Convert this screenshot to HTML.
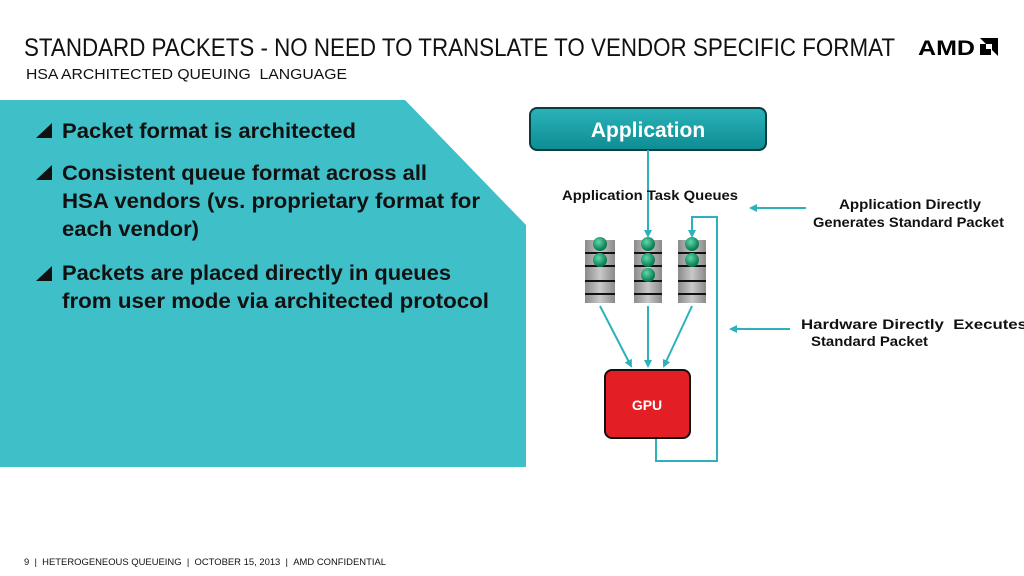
<!DOCTYPE html>
<html><head><style>
body{margin:0;width:1024px;height:576px;background:#fff;position:relative;overflow:hidden;font-family:"Liberation Sans",sans-serif}
</style></head><body>
<svg style="position:absolute;left:0;top:0" width="1024" height="576">
<defs><marker id="a" markerWidth="8" markerHeight="8" refX="6" refY="4" orient="auto" markerUnits="userSpaceOnUse"><path d="M0,0 L8,4 L0,8 Z" fill="#2cb1bd"/></marker>
<linearGradient id="g" x1="0" y1="0" x2="0" y2="1"><stop offset="0" stop-color="#2bb3b9"/><stop offset="1" stop-color="#0d8c93"/></linearGradient>
<linearGradient id="q" x1="0" y1="0" x2="1" y2="0"><stop offset="0" stop-color="#8a8a8a"/><stop offset=".5" stop-color="#c8c8c8"/><stop offset="1" stop-color="#8a8a8a"/></linearGradient>
<radialGradient id="b" cx=".4" cy=".35" r=".6"><stop offset="0" stop-color="#5fd9a6"/><stop offset="1" stop-color="#0a7a55"/></radialGradient></defs>
<text x="24" y="56" font-size="25" fill="#111" textLength="871" lengthAdjust="spacingAndGlyphs">STANDARD PACKETS - NO NEED TO TRANSLATE TO VENDOR SPECIFIC FORMAT</text>
<text x="26" y="79" font-size="15" fill="#111" textLength="321" lengthAdjust="spacingAndGlyphs">HSA ARCHITECTED QUEUING&#160; LANGUAGE</text>
<text x="918" y="55" font-size="21" font-weight="bold" fill="#000" textLength="57" lengthAdjust="spacingAndGlyphs">AMD</text>
<path d="M980 38 L998 38 L998 56 L992 50 L992 44 L986 44 Z" fill="#000"/>
<rect x="980" y="44" width="6" height="11" fill="#000"/><rect x="980" y="49" width="11" height="6" fill="#000"/>
<polygon points="0,100 405,100 526,225 526,467 0,467" fill="#3fbfc8"/>
<rect x="530" y="108" width="236" height="42" rx="7" fill="url(#g)" stroke="#0a3d40" stroke-width="2"/>
<text x="648" y="137" text-anchor="middle" font-size="21" font-weight="bold" fill="#fff">Application</text>
<g stroke="#2cb1bd" stroke-width="2" fill="none">
<line x1="648" y1="150" x2="648" y2="236" marker-end="url(#a)"/>
<polyline points="656,438 656,461 717,461 717,217 692,217 692,236" marker-end="url(#a)"/>
<line x1="600" y1="306" x2="631" y2="366" marker-end="url(#a)"/>
<line x1="648" y1="306" x2="648" y2="366" marker-end="url(#a)"/>
<line x1="692" y1="306" x2="664" y2="366" marker-end="url(#a)"/>
<line x1="806" y1="208" x2="751" y2="208" marker-end="url(#a)"/>
<line x1="790" y1="329" x2="731" y2="329" marker-end="url(#a)"/>
</g>
<rect x="585" y="240" width="30" height="63" fill="url(#q)"/>
<rect x="634" y="240" width="28" height="63" fill="url(#q)"/>
<rect x="678" y="240" width="28" height="63" fill="url(#q)"/>
<g stroke="#111" stroke-width="2">
<line x1="585" y1="253" x2="615" y2="253"/><line x1="585" y1="266" x2="615" y2="266"/><line x1="585" y1="281" x2="615" y2="281"/><line x1="585" y1="294" x2="615" y2="294"/>
<line x1="634" y1="253" x2="662" y2="253"/><line x1="634" y1="266" x2="662" y2="266"/><line x1="634" y1="281" x2="662" y2="281"/><line x1="634" y1="294" x2="662" y2="294"/>
<line x1="678" y1="253" x2="706" y2="253"/><line x1="678" y1="266" x2="706" y2="266"/><line x1="678" y1="281" x2="706" y2="281"/><line x1="678" y1="294" x2="706" y2="294"/>
</g>
<g fill="url(#b)"><circle cx="600" cy="244" r="7"/><circle cx="600" cy="260" r="7"/>
<circle cx="648" cy="244" r="7"/><circle cx="648" cy="260" r="7"/><circle cx="648" cy="275" r="7"/>
<circle cx="692" cy="244" r="7"/><circle cx="692" cy="260" r="7"/></g>
<rect x="605" y="370" width="85" height="68" rx="7" fill="#e31e24" stroke="#111" stroke-width="2"/>
<text x="647" y="410" text-anchor="middle" font-size="14" font-weight="bold" fill="#fff">GPU</text>
<g fill="#111" font-size="14" font-weight="bold">
<text x="562" y="200" textLength="176" lengthAdjust="spacingAndGlyphs">Application Task Queues</text>
<text x="839" y="209" textLength="142" lengthAdjust="spacingAndGlyphs">Application Directly</text>
<text x="813" y="227" textLength="191" lengthAdjust="spacingAndGlyphs">Generates Standard Packet</text>
<text x="801" y="329" textLength="226" lengthAdjust="spacingAndGlyphs">Hardware Directly&#160; Executes</text>
<text x="811" y="346" textLength="117" lengthAdjust="spacingAndGlyphs">Standard Packet</text>
</g>
<g fill="#111"><polygon points="36,138 52,123 52,138"/><polygon points="36,180 52,165 52,180"/><polygon points="36,281 52,266 52,281"/></g>
<g fill="#111" font-size="21" font-weight="bold">
<text x="62" y="138" textLength="294" lengthAdjust="spacingAndGlyphs">Packet format is architected</text>
<text x="62" y="180" textLength="365" lengthAdjust="spacingAndGlyphs">Consistent queue format across all</text>
<text x="62" y="208" textLength="418" lengthAdjust="spacingAndGlyphs">HSA vendors (vs. proprietary format for</text>
<text x="62" y="236" textLength="137" lengthAdjust="spacingAndGlyphs">each vendor)</text>
<text x="62" y="280" textLength="389" lengthAdjust="spacingAndGlyphs">Packets are placed directly in queues</text>
<text x="62" y="308" textLength="427" lengthAdjust="spacingAndGlyphs">from user mode via architected protocol</text>
</g>
<text x="24" y="565" font-size="9" fill="#111" textLength="362" lengthAdjust="spacingAndGlyphs">9&#160;&#160;|&#160;&#160;HETEROGENEOUS QUEUEING&#160;&#160;|&#160;&#160;OCTOBER 15, 2013&#160;&#160;|&#160;&#160;AMD CONFIDENTIAL</text>
</svg>
</body></html>
